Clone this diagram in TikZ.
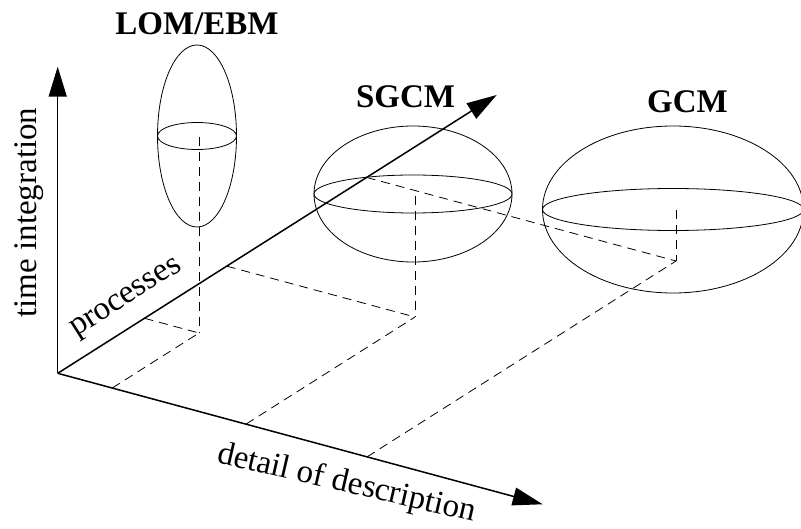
\documentclass[tikz,border=0pt]{standalone}
\usepackage{fontspec}
\setmainfont{Liberation Serif}
\usetikzlibrary{arrows.meta,calc}

\begin{document}
\begin{tikzpicture}[x=1bp,y=-1bp,
  axis/.style={line width=1.5bp,-{Triangle[length=30bp,width=18bp]}},
  outline/.style={line width=0.8bp},
  guide/.style={line width=0.8bp,dash pattern=on 9bp off 6bp},
  title/.style={font=\fontsize{33bp}{36bp}\selectfont\bfseries,anchor=base,inner sep=0pt},
  axislabel/.style={font=\fontsize{33bp}{36bp}\selectfont,anchor=base,inner sep=0pt}]
\useasboundingbox (0,0) rectangle (801,529);
\clip (0,0) rectangle (801,529);

% axes
\coordinate (O) at (57.7,373.3);
\coordinate (T) at (57.7,66.7);
\coordinate (P) at (496.7,95);
\coordinate (D) at (542.7,504.3);

% feet of the three models on the ground plane
\coordinate (F1) at (199,333);
\coordinate (F2) at (415,317);
\coordinate (F3) at (676,261);

% projections of each foot onto the two ground axes
\foreach \f in {F1,F2,F3}{
  \coordinate (\f a) at ($(\f)-(D)+(O)$);
  \coordinate (\f b) at ($(\f)-(P)+(O)$);
  \coordinate (\f p) at (intersection of O--P and \f--\f a);
  \coordinate (\f d) at (intersection of O--D and \f--\f b);
}

% model bodies
\coordinate (C1) at (197,136);
\coordinate (C2) at (413,194);
\coordinate (C3) at (673,209.5);
\draw[outline] (C1) ellipse [x radius=39.5,y radius=91];
\draw[outline] (C1) ellipse [x radius=39.5,y radius=13.5];
\draw[outline] (C2) ellipse [x radius=99,y radius=68];
\draw[outline] (C2) ellipse [x radius=99,y radius=19];
\draw[outline] (C3) ellipse [x radius=130.5,y radius=83.5];
\draw[outline] (C3) ellipse [x radius=130.5,y radius=21];

% guide lines
\coordinate (V1) at (199,137);
\coordinate (V2) at (415,196);
\coordinate (V3) at (676,210);
\draw[guide] (V1) -- (F1);
\draw[guide] (V2) -- (F2);
\draw[guide] (V3) -- (F3);
\foreach \f in {F1,F2,F3}{
  \draw[guide] (\f p) -- (\f);
  \draw[guide] (\f d) -- (\f);
}

\draw[axis] (O) -- (T);
\draw[axis] (O) -- (P);
\draw[axis] (O) -- (D);

% labels
\node[title] (lom) at (197,35) {LOM/EBM};
\node[title] (sgcm) at (405.5,108) {SGCM};
\node[title] (gcm) at (687.5,113) {GCM};
\node[axislabel,rotate=90] (lt) at (36.5,212.5) {time integration};
\node[axislabel,rotate=32.4] (lp) at (129.5,303) {processes};
\node[axislabel,rotate=-13] (ld) at (345,492) {detail of description};
\end{tikzpicture}
\end{document}
